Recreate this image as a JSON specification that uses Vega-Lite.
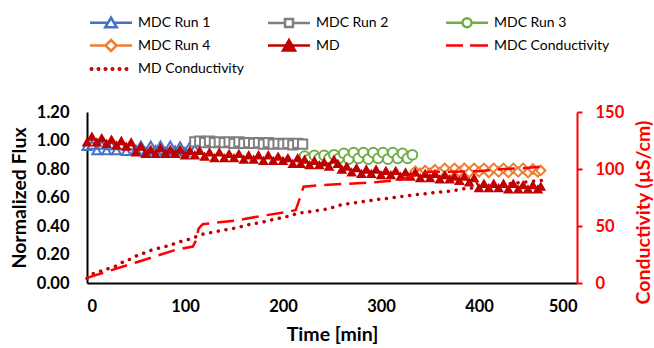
{
  "$schema": "https://vega.github.io/schema/vega-lite/v6.json",
  "width": 490,
  "height": 171,
  "autosize": "none",
  "padding": {"left": 87, "top": 112, "right": 77, "bottom": 65},
  "background": "white",
  "config": {"view": {"stroke": null}},
  "datasets": {
    "r1": [{"t":0,"v":0.96},{"t":5,"v":0.97},{"t":10,"v":0.93},{"t":15,"v":0.97},{"t":20,"v":0.93},{"t":25,"v":0.965},{"t":30,"v":0.93},{"t":35,"v":0.965},{"t":40,"v":0.925},{"t":45,"v":0.965},{"t":50,"v":0.935},{"t":55,"v":0.965},{"t":60,"v":0.92},{"t":65,"v":0.965},{"t":70,"v":0.935},{"t":75,"v":0.965},{"t":80,"v":0.92},{"t":85,"v":0.965},{"t":90,"v":0.93},{"t":95,"v":0.96},{"t":100,"v":0.92},{"t":105,"v":0.96},{"t":110,"v":0.94}],
    "r2": [{"t":110,"v":0.99},{"t":115,"v":0.995},{"t":120,"v":0.985},{"t":125,"v":0.995},{"t":130,"v":0.985},{"t":135,"v":0.99},{"t":140,"v":0.985},{"t":145,"v":0.99},{"t":150,"v":0.98},{"t":155,"v":0.99},{"t":160,"v":0.98},{"t":165,"v":0.985},{"t":170,"v":0.98},{"t":175,"v":0.985},{"t":180,"v":0.975},{"t":185,"v":0.985},{"t":190,"v":0.975},{"t":195,"v":0.98},{"t":200,"v":0.975},{"t":205,"v":0.98},{"t":210,"v":0.97},{"t":215,"v":0.98},{"t":220,"v":0.975}],
    "r3": [{"t":222,"v":0.89},{"t":227,"v":0.87},{"t":232,"v":0.895},{"t":237,"v":0.875},{"t":242,"v":0.895},{"t":247,"v":0.875},{"t":252,"v":0.9},{"t":257,"v":0.875},{"t":262,"v":0.91},{"t":267,"v":0.87},{"t":272,"v":0.915},{"t":277,"v":0.875},{"t":282,"v":0.915},{"t":287,"v":0.87},{"t":292,"v":0.915},{"t":297,"v":0.875},{"t":302,"v":0.915},{"t":307,"v":0.87},{"t":312,"v":0.915},{"t":317,"v":0.875},{"t":322,"v":0.91},{"t":327,"v":0.875},{"t":332,"v":0.9}],
    "r4": [{"t":335,"v":0.785},{"t":340,"v":0.77},{"t":345,"v":0.79},{"t":350,"v":0.77},{"t":355,"v":0.795},{"t":360,"v":0.775},{"t":365,"v":0.805},{"t":370,"v":0.775},{"t":375,"v":0.805},{"t":380,"v":0.78},{"t":385,"v":0.805},{"t":390,"v":0.775},{"t":395,"v":0.805},{"t":400,"v":0.78},{"t":405,"v":0.805},{"t":410,"v":0.775},{"t":415,"v":0.805},{"t":420,"v":0.78},{"t":425,"v":0.805},{"t":430,"v":0.775},{"t":435,"v":0.805},{"t":440,"v":0.78},{"t":445,"v":0.805},{"t":450,"v":0.775},{"t":455,"v":0.8},{"t":460,"v":0.78},{"t":463,"v":0.79}],
    "md": [{"t":0,"v":0.99},{"t":5,"v":1.03},{"t":10,"v":0.99},{"t":15,"v":1.02},{"t":20,"v":0.98},{"t":25,"v":1.01},{"t":30,"v":0.97},{"t":35,"v":1.0},{"t":40,"v":0.96},{"t":45,"v":0.99},{"t":50,"v":0.92},{"t":55,"v":0.96},{"t":60,"v":0.91},{"t":65,"v":0.94},{"t":70,"v":0.91},{"t":75,"v":0.95},{"t":80,"v":0.91},{"t":85,"v":0.94},{"t":90,"v":0.91},{"t":95,"v":0.94},{"t":100,"v":0.9},{"t":105,"v":0.93},{"t":110,"v":0.9},{"t":115,"v":0.93},{"t":120,"v":0.89},{"t":125,"v":0.92},{"t":130,"v":0.88},{"t":135,"v":0.92},{"t":140,"v":0.88},{"t":145,"v":0.91},{"t":150,"v":0.88},{"t":155,"v":0.91},{"t":160,"v":0.87},{"t":165,"v":0.9},{"t":170,"v":0.87},{"t":175,"v":0.9},{"t":180,"v":0.86},{"t":185,"v":0.9},{"t":190,"v":0.86},{"t":195,"v":0.89},{"t":200,"v":0.86},{"t":205,"v":0.88},{"t":210,"v":0.84},{"t":215,"v":0.88},{"t":218,"v":0.84},{"t":222,"v":0.87},{"t":227,"v":0.83},{"t":232,"v":0.86},{"t":237,"v":0.83},{"t":242,"v":0.85},{"t":247,"v":0.82},{"t":252,"v":0.87},{"t":256,"v":0.84},{"t":260,"v":0.8},{"t":265,"v":0.82},{"t":270,"v":0.78},{"t":275,"v":0.81},{"t":280,"v":0.77},{"t":285,"v":0.8},{"t":290,"v":0.77},{"t":295,"v":0.8},{"t":300,"v":0.76},{"t":305,"v":0.79},{"t":310,"v":0.76},{"t":315,"v":0.79},{"t":320,"v":0.75},{"t":325,"v":0.78},{"t":330,"v":0.75},{"t":335,"v":0.78},{"t":340,"v":0.74},{"t":345,"v":0.77},{"t":350,"v":0.74},{"t":355,"v":0.77},{"t":360,"v":0.73},{"t":365,"v":0.76},{"t":370,"v":0.73},{"t":375,"v":0.75},{"t":380,"v":0.72},{"t":385,"v":0.75},{"t":390,"v":0.71},{"t":395,"v":0.74},{"t":400,"v":0.67},{"t":405,"v":0.7},{"t":410,"v":0.67},{"t":415,"v":0.7},{"t":420,"v":0.67},{"t":425,"v":0.7},{"t":430,"v":0.66},{"t":435,"v":0.7},{"t":440,"v":0.66},{"t":445,"v":0.69},{"t":450,"v":0.66},{"t":455,"v":0.69},{"t":460,"v":0.66},{"t":463,"v":0.68}],
    "mdc": [{"t":0,"c":4.5},{"t":50,"c":18},{"t":92,"c":29.5},{"t":108,"c":32},{"t":111,"c":37},{"t":114,"c":48},{"t":118,"c":51.5},{"t":153,"c":55},{"t":179,"c":59},{"t":206,"c":62.5},{"t":213,"c":64},{"t":217,"c":74},{"t":221,"c":84.5},{"t":241,"c":86},{"t":265,"c":87},{"t":296,"c":88.5},{"t":320,"c":90.5},{"t":335,"c":95},{"t":350,"c":97.5},{"t":399,"c":98},{"t":425,"c":100},{"t":451,"c":101},{"t":463,"c":102}],
    "mdcond": [{"t":0,"c":4},{"t":6,"c":8},{"t":15,"c":10.6},{"t":22,"c":12.7},{"t":29,"c":14.7},{"t":37,"c":18.5},{"t":44,"c":20.9},{"t":52,"c":24.4},{"t":59,"c":26.5},{"t":66,"c":28.9},{"t":75,"c":30.9},{"t":83,"c":32.7},{"t":92,"c":35.3},{"t":98,"c":37},{"t":105,"c":38.6},{"t":114,"c":41.5},{"t":121,"c":43.6},{"t":129,"c":44.5},{"t":136,"c":45.9},{"t":144,"c":47.1},{"t":153,"c":48.5},{"t":160,"c":50},{"t":168,"c":51.8},{"t":177,"c":53},{"t":184,"c":54.5},{"t":192,"c":56},{"t":201,"c":57.7},{"t":208,"c":59.1},{"t":216,"c":61.3},{"t":225,"c":62.1},{"t":232,"c":63.3},{"t":240,"c":64.2},{"t":247,"c":65.3},{"t":255,"c":67.5},{"t":262,"c":69},{"t":271,"c":70},{"t":279,"c":71.2},{"t":286,"c":71.8},{"t":294,"c":73},{"t":303,"c":73.9},{"t":310,"c":74.5},{"t":318,"c":75.6},{"t":327,"c":76.5},{"t":334,"c":77.4},{"t":343,"c":78},{"t":351,"c":78.9},{"t":360,"c":79.8},{"t":367,"c":80.3},{"t":375,"c":81.2},{"t":383,"c":82.4},{"t":400,"c":84},{"t":420,"c":86},{"t":440,"c":88},{"t":455,"c":89.3},{"t":470,"c":90.5}],
    "leg": [{"s":"MDC Run 1"},{"s":"MDC Run 2"},{"s":"MDC Run 3"},{"s":"MDC Run 4"},{"s":"MD"},{"s":"MDC Conductivity"},{"s":"MD Conductivity"}]
  },
  "layer": [
    {"data":{"name":"r1"},"mark":{"type":"line","color":"#4472C4","strokeWidth":2},
     "encoding":{"x":{"field":"t","type":"quantitative","scale":{"domain":[0,500],"nice":false},"axis":{"values":[0,100,200,300,400,500],"title":"Time [min]","grid":false,"tickSize":0,"domainColor":"#000000","domainWidth":2,"labelPadding":23,"labelBaseline":"middle","labelFont":"Lato","labelFontSize":16.5,"labelFontWeight":"bold","labelColor":"#000000","titleFont":"Lato","titleFontSize":19.5,"titleFontWeight":"bold","titleColor":"#000000","titleY":51,"titleBaseline":"middle"}},
                 "y":{"field":"v","type":"quantitative","scale":{"domain":[0,1.2],"nice":false},"axis":{"orient":"left","values":[0,0.2,0.4,0.6,0.8,1.0,1.2],"format":".2f","title":"Normalized Flux","grid":false,"tickSize":0,"domainColor":"#000000","domainWidth":2,"labelPadding":18,"labelFont":"Lato","labelFontSize":16.5,"labelFontWeight":"bold","labelColor":"#000000","titleFont":"Lato","titleFontSize":19.5,"titleFontWeight":"bold","titleColor":"#000000","titleX":-68,"titleBaseline":"middle"}}}},
    {"data":{"name":"r1"},"mark":{"type":"point","shape":"triangle-up","size":80,"filled":false,"fill":"white","stroke":"#4472C4","strokeWidth":2,"opacity":1},
     "encoding":{"x":{"field":"t","type":"quantitative","scale":{"domain":[0,500],"nice":false}},"y":{"field":"v","type":"quantitative","scale":{"domain":[0,1.2],"nice":false},"axis":null}}},
    {"data":{"name":"r2"},"mark":{"type":"line","color":"#7F7F7F","strokeWidth":2},
     "encoding":{"x":{"field":"t","type":"quantitative","scale":{"domain":[0,500],"nice":false}},"y":{"field":"v","type":"quantitative","scale":{"domain":[0,1.2],"nice":false},"axis":null}}},
    {"data":{"name":"r2"},"mark":{"type":"point","shape":"square","size":85,"filled":false,"fill":"white","stroke":"#7F7F7F","strokeWidth":2,"opacity":1},
     "encoding":{"x":{"field":"t","type":"quantitative","scale":{"domain":[0,500],"nice":false}},"y":{"field":"v","type":"quantitative","scale":{"domain":[0,1.2],"nice":false},"axis":null}}},
    {"data":{"name":"r3"},"mark":{"type":"line","color":"#70AD47","strokeWidth":2},
     "encoding":{"x":{"field":"t","type":"quantitative","scale":{"domain":[0,500],"nice":false}},"y":{"field":"v","type":"quantitative","scale":{"domain":[0,1.2],"nice":false},"axis":null}}},
    {"data":{"name":"r3"},"mark":{"type":"point","shape":"circle","size":95,"filled":false,"fill":"white","stroke":"#70AD47","strokeWidth":2,"opacity":1},
     "encoding":{"x":{"field":"t","type":"quantitative","scale":{"domain":[0,500],"nice":false}},"y":{"field":"v","type":"quantitative","scale":{"domain":[0,1.2],"nice":false},"axis":null}}},
    {"data":{"name":"r4"},"mark":{"type":"line","color":"#ED7D31","strokeWidth":2},
     "encoding":{"x":{"field":"t","type":"quantitative","scale":{"domain":[0,500],"nice":false}},"y":{"field":"v","type":"quantitative","scale":{"domain":[0,1.2],"nice":false},"axis":null}}},
    {"data":{"name":"r4"},"mark":{"type":"point","shape":"diamond","size":90,"filled":false,"fill":"white","stroke":"#ED7D31","strokeWidth":2,"opacity":1},
     "encoding":{"x":{"field":"t","type":"quantitative","scale":{"domain":[0,500],"nice":false}},"y":{"field":"v","type":"quantitative","scale":{"domain":[0,1.2],"nice":false},"axis":null}}},
    {"data":{"name":"mdcond"},"mark":{"type":"line","color":"#C00000","strokeWidth":3.5,"strokeDash":[0.1,7.7],"strokeCap":"round","interpolate":"monotone"},
     "encoding":{"x":{"field":"t","type":"quantitative","scale":{"domain":[0,500],"nice":false}},"y":{"field":"c","type":"quantitative","scale":{"domain":[0,150],"nice":false},"axis":null}}},
    {"data":{"name":"md"},"mark":{"type":"line","color":"#C00000","strokeWidth":2},
     "encoding":{"x":{"field":"t","type":"quantitative","scale":{"domain":[0,500],"nice":false}},"y":{"field":"v","type":"quantitative","scale":{"domain":[0,1.2],"nice":false},"axis":null}}},
    {"data":{"name":"md"},"mark":{"type":"point","shape":"triangle-up","size":115,"filled":true,"color":"#C00000","opacity":1},
     "encoding":{"x":{"field":"t","type":"quantitative","scale":{"domain":[0,500],"nice":false}},"y":{"field":"v","type":"quantitative","scale":{"domain":[0,1.2],"nice":false},"axis":null}}},
    {"data":{"name":"mdc"},"mark":{"type":"line","color":"#FF0000","strokeWidth":2.5,"strokeDash":[17,8]},
     "encoding":{"x":{"field":"t","type":"quantitative","scale":{"domain":[0,500],"nice":false}},
                 "y":{"field":"c","type":"quantitative","scale":{"domain":[0,150],"nice":false},"axis":{"orient":"right","values":[0,50,100,150],"title":"Conductivity (µS/cm)","grid":false,"tickSize":5,"tickWidth":2,"tickColor":"#FF0000","domainColor":"#FF0000","domainWidth":2,"labelPadding":13,"labelFont":"Lato","labelFontSize":16.5,"labelFontWeight":"bold","labelColor":"#FF0000","titleFont":"Lato","titleFontSize":19.5,"titleFontWeight":"bold","titleColor":"#FF0000","titleAngle":270,"titleX":66,"titleY":100,"titleBaseline":"middle"}}}},
    {"data":{"name":"leg"},"mark":{"type":"point","opacity":0,"filled":false},
     "encoding":{
       "shape":{"field":"s","type":"nominal","scale":{"domain":["MDC Run 1","MDC Run 2","MDC Run 3","MDC Run 4","MD","MDC Conductivity","MD Conductivity"],
         "range":["M-1,0H2.62M3.78,0H7.4M3.2,-1L4.35,0.9L2.05,0.9Z",
                  "M-1,0H2.4M4,0H7.4M2.4,-0.8H4V0.8H2.4Z",
                  "M-1,0H2.3M4.1,0H7.4M4.1,0A0.9,0.9 0 1,1 2.3,0A0.9,0.9 0 1,1 4.1,0Z",
                  "M-1,0H2.1M4.3,0H7.4M3.2,-1.1L4.3,0L3.2,1.1L2.1,0Z",
                  "M-1,0H7.4M3.2,-1.1L4.4,1L2,1Z",
                  "M-1,0H2.4M3.8,0H7.4",
                  "M-0.55,0A0.15,0.15 0 1,1 -0.85,0A0.15,0.15 0 1,1 -0.55,0ZM0.85,0A0.15,0.15 0 1,1 0.55,0A0.15,0.15 0 1,1 0.85,0ZM2.25,0A0.15,0.15 0 1,1 1.95,0A0.15,0.15 0 1,1 2.25,0ZM3.65,0A0.15,0.15 0 1,1 3.35,0A0.15,0.15 0 1,1 3.65,0ZM5.05,0A0.15,0.15 0 1,1 4.75,0A0.15,0.15 0 1,1 5.05,0ZM6.45,0A0.15,0.15 0 1,1 6.15,0A0.15,0.15 0 1,1 6.45,0Z"]},
         "legend":{"title":null,"orient":"none","direction":"horizontal","legendX":1,"legendY":-97,"columns":3,"gridAlign":"all","columnPadding":9,"rowPadding":1.5,"symbolSize":100,"symbolStrokeWidth":2.5,"symbolOpacity":1,"labelOffset":36,"labelFont":"Lato","labelFontSize":14,"labelColor":"#000000","padding":0}},
       "stroke":{"field":"s","type":"nominal","scale":{"domain":["MDC Run 1","MDC Run 2","MDC Run 3","MDC Run 4","MD","MDC Conductivity","MD Conductivity"],"range":["#4472C4","#7F7F7F","#70AD47","#ED7D31","#C00000","#FF0000","#C00000"]},
         "legend":{"title":null,"orient":"none","direction":"horizontal","legendX":1,"legendY":-97,"columns":3,"gridAlign":"all","columnPadding":9,"rowPadding":1.5,"symbolSize":100,"symbolStrokeWidth":2.5,"symbolOpacity":1,"labelOffset":36,"labelFont":"Lato","labelFontSize":14,"labelColor":"#000000","padding":0}},
       "fill":{"field":"s","type":"nominal","scale":{"domain":["MDC Run 1","MDC Run 2","MDC Run 3","MDC Run 4","MD","MDC Conductivity","MD Conductivity"],"range":["#FFFFFF","#FFFFFF","#FFFFFF","#FFFFFF","#C00000","transparent","#C00000"]},
         "legend":{"title":null,"orient":"none","direction":"horizontal","legendX":1,"legendY":-97,"columns":3,"gridAlign":"all","columnPadding":9,"rowPadding":1.5,"symbolSize":100,"symbolStrokeWidth":2.5,"symbolOpacity":1,"labelOffset":36,"labelFont":"Lato","labelFontSize":14,"labelColor":"#000000","padding":0}}
     }}
  ],
  "resolve": {"scale": {"y": "independent", "shape": "independent", "stroke": "independent", "fill": "independent"}, "axis": {"y": "independent"}}
}
